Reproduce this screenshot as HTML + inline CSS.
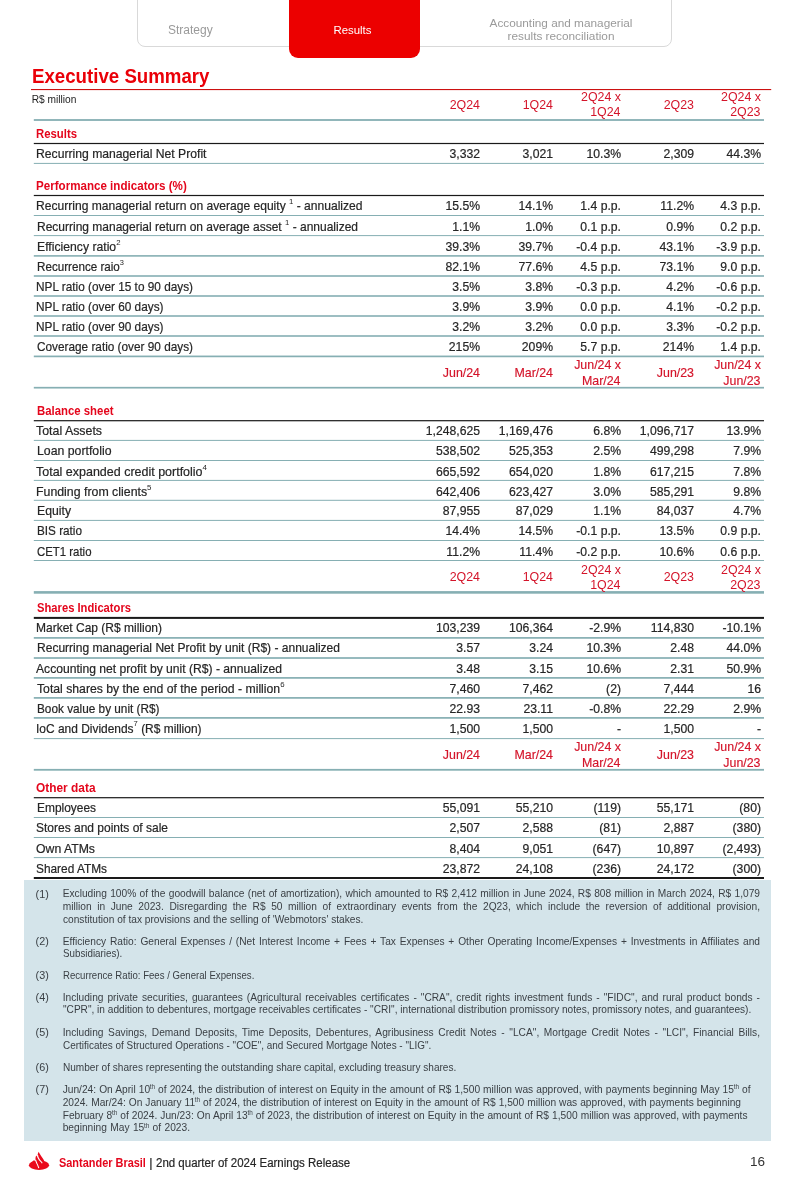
<!DOCTYPE html>
<html lang="en">
<head>
<meta charset="utf-8">
<title>Executive Summary</title>
<style>
html,body{margin:0;padding:0;background:#fff;}
body{width:812px;height:1184px;position:relative;overflow:hidden;font-family:"Liberation Sans",sans-serif;color:#333;}
#pg div{position:absolute;white-space:nowrap;}
#pg i{position:absolute;display:block;}
i.b{background:#86afb3;}
i.k{background:#1a1a1a;}
i.r{background:#cc1111;}
.l,.v{color:#262626;-webkit-text-stroke:0.2px #262626;}
.s{color:#e4061c;font-weight:bold;font-size:12.2px;}
.h{color:#d4142a;font-size:12.4px !important;}
.h.a{font-size:12.4px !important;-webkit-text-stroke:0.15px #d4142a;}
.f{color:#3a3f44;}
.j{text-align:justify;text-align-last:justify;}
sup{-webkit-text-stroke:0;font-size:64%;vertical-align:baseline;position:relative;top:-0.82em;line-height:0;}
.f sup{font-size:62%;top:-0.52em;margin-left:-0.3px;}
#tabs{position:absolute;left:136.5px;top:-10px;width:535.5px;height:56.5px;border:1px solid #d9d9d9;border-radius:8px;box-sizing:border-box;background:#fff;}
#rtab{position:absolute;left:289px;top:-10px;width:130.5px;height:67.5px;background:#ec0000;border-radius:9px;}
.t{color:#9a9a9a;}
#fn{position:absolute;left:24px;top:880px;width:747px;height:261px;background:#d4e4ea;}
</style>
</head>
<body>
<div id="pg">
<div id="tabs"></div>
<div id="rtab"></div>
<div class="t" style="left:168px;top:21.8px;font-size:12px;line-height:16px;">Strategy</div>
<div style="left:333.5px;top:21.5px;font-size:11.4px;line-height:16px;color:#fff;">Results</div>
<div class="t" style="left:461px;width:200px;text-align:center;top:17px;font-size:11.8px;line-height:12.5px;white-space:normal;">Accounting and managerial<br>results reconciliation</div>
<div style="left:32.3px;top:64.2px;font-size:19.8px;line-height:24px;font-weight:bold;color:#ea0008;transform:scaleX(0.944);transform-origin:left center;">Executive Summary</div>
<div style="left:31.7px;top:91.7px;font-size:10.2px;line-height:16px;color:#222;">R$ million</div>
<div id="fn"></div>
<svg style="position:absolute;left:0;top:0" width="812" height="1184" viewBox="0 0 812 1184"><rect x="31" y="89.00" width="740.2" height="1.1" fill="#cc1111"/><rect x="33.8" y="119.10" width="730.2" height="1.8" fill="#86afb3"/><rect x="33.8" y="142.90" width="730.2" height="1.2" fill="#1a1a1a"/><rect x="33.8" y="162.90" width="730.2" height="1" fill="#86afb3"/><rect x="33.8" y="194.90" width="730.2" height="1.2" fill="#1a1a1a"/><rect x="33.8" y="215.00" width="730.2" height="1" fill="#86afb3"/><rect x="33.8" y="235.10" width="730.2" height="1" fill="#86afb3"/><rect x="33.8" y="255.10" width="730.2" height="1.6" fill="#86afb3"/><rect x="33.8" y="275.20" width="730.2" height="1.6" fill="#86afb3"/><rect x="33.8" y="295.20" width="730.2" height="1.6" fill="#86afb3"/><rect x="33.8" y="315.20" width="730.2" height="1.6" fill="#86afb3"/><rect x="33.8" y="335.20" width="730.2" height="1.6" fill="#86afb3"/><rect x="33.8" y="355.55" width="730.2" height="1.7" fill="#86afb3"/><rect x="33.8" y="386.85" width="730.2" height="1.7" fill="#86afb3"/><rect x="33.8" y="420.10" width="730.2" height="1.2" fill="#1a1a1a"/><rect x="33.8" y="439.90" width="730.2" height="1" fill="#86afb3"/><rect x="33.8" y="460.00" width="730.2" height="1" fill="#86afb3"/><rect x="33.8" y="479.90" width="730.2" height="1" fill="#86afb3"/><rect x="33.8" y="499.80" width="730.2" height="1" fill="#86afb3"/><rect x="33.8" y="519.90" width="730.2" height="1" fill="#86afb3"/><rect x="33.8" y="540.00" width="730.2" height="1" fill="#86afb3"/><rect x="33.8" y="560.00" width="730.2" height="1" fill="#86afb3"/><rect x="33.8" y="591.10" width="730.2" height="2.6" fill="#86afb3"/><rect x="33.8" y="616.90" width="730.2" height="2" fill="#1a1a1a"/><rect x="33.8" y="637.05" width="730.2" height="1.7" fill="#86afb3"/><rect x="33.8" y="657.15" width="730.2" height="1.7" fill="#86afb3"/><rect x="33.8" y="677.05" width="730.2" height="1.7" fill="#86afb3"/><rect x="33.8" y="697.05" width="730.2" height="1.7" fill="#86afb3"/><rect x="33.8" y="717.05" width="730.2" height="1.7" fill="#86afb3"/><rect x="33.8" y="738.10" width="730.2" height="1" fill="#86afb3"/><rect x="33.8" y="768.90" width="730.2" height="1.8" fill="#86afb3"/><rect x="33.8" y="797.10" width="730.2" height="1.2" fill="#1a1a1a"/><rect x="33.8" y="817.00" width="730.2" height="1" fill="#86afb3"/><rect x="33.8" y="837.00" width="730.2" height="1" fill="#86afb3"/><rect x="33.8" y="857.10" width="730.2" height="1" fill="#86afb3"/><rect x="33.8" y="877.00" width="730.2" height="2" fill="#1a1a1a"/></svg>
<div class="h" style="top:97.17px;font-size:12.2px;line-height:16px;right:332.00px;text-align:right;">2Q24</div>
<div class="h" style="top:97.17px;font-size:12.2px;line-height:16px;right:259.00px;text-align:right;">1Q24</div>
<div class="h" style="top:88.77px;font-size:12.2px;line-height:16px;right:191.00px;text-align:right;">2Q24 x</div>
<div class="h" style="top:103.57px;font-size:12.2px;line-height:16px;right:191.50px;text-align:right;">1Q24</div>
<div class="h" style="top:97.17px;font-size:12.2px;line-height:16px;right:118.00px;text-align:right;">2Q23</div>
<div class="h" style="top:88.77px;font-size:12.2px;line-height:16px;right:51.00px;text-align:right;">2Q24 x</div>
<div class="h" style="top:103.57px;font-size:12.2px;line-height:16px;right:51.50px;text-align:right;">2Q23</div>
<div class="s" style="top:125.71px;font-size:12.1px;line-height:16px;left:36px;transform:scaleX(0.9385);transform-origin:left center;">Results</div>
<div class="l" style="top:145.67px;font-size:12.2px;line-height:16px;left:36px;transform:scaleX(0.9988);transform-origin:left center;">Recurring managerial Net Profit</div>
<div class="v" style="top:145.67px;font-size:12.2px;line-height:16px;right:332.00px;text-align:right;">3,332</div>
<div class="v" style="top:145.67px;font-size:12.2px;line-height:16px;right:259.00px;text-align:right;">3,021</div>
<div class="v" style="top:145.67px;font-size:12.2px;line-height:16px;right:191.00px;text-align:right;">10.3%</div>
<div class="v" style="top:145.67px;font-size:12.2px;line-height:16px;right:118.00px;text-align:right;">2,309</div>
<div class="v" style="top:145.67px;font-size:12.2px;line-height:16px;right:51.00px;text-align:right;">44.3%</div>
<div class="s" style="top:177.71px;font-size:12.1px;line-height:16px;left:36px;transform:scaleX(0.9589);transform-origin:left center;">Performance indicators (%)</div>
<div class="l" style="top:198.07px;font-size:12.2px;line-height:16px;left:36px;transform:scaleX(0.9908);transform-origin:left center;">Recurring managerial return on average equity <sup>1</sup> - annualized</div>
<div class="v" style="top:198.07px;font-size:12.2px;line-height:16px;right:332.00px;text-align:right;">15.5%</div>
<div class="v" style="top:198.07px;font-size:12.2px;line-height:16px;right:259.00px;text-align:right;">14.1%</div>
<div class="v" style="top:198.07px;font-size:12.2px;line-height:16px;right:191.00px;text-align:right;">1.4 p.p.</div>
<div class="v" style="top:198.07px;font-size:12.2px;line-height:16px;right:118.00px;text-align:right;">11.2%</div>
<div class="v" style="top:198.07px;font-size:12.2px;line-height:16px;right:51.00px;text-align:right;">4.3 p.p.</div>
<div class="l" style="top:218.97px;font-size:12.2px;line-height:16px;left:37px;transform:scaleX(0.9842);transform-origin:left center;">Recurring managerial return on average asset <sup>1</sup> - annualized</div>
<div class="v" style="top:218.97px;font-size:12.2px;line-height:16px;right:332.00px;text-align:right;">1.1%</div>
<div class="v" style="top:218.97px;font-size:12.2px;line-height:16px;right:259.00px;text-align:right;">1.0%</div>
<div class="v" style="top:218.97px;font-size:12.2px;line-height:16px;right:191.00px;text-align:right;">0.1 p.p.</div>
<div class="v" style="top:218.97px;font-size:12.2px;line-height:16px;right:118.00px;text-align:right;">0.9%</div>
<div class="v" style="top:218.97px;font-size:12.2px;line-height:16px;right:51.00px;text-align:right;">0.2 p.p.</div>
<div class="l" style="top:239.07px;font-size:12.2px;line-height:16px;left:37px;transform:scaleX(1.0015);transform-origin:left center;">Efficiency ratio<sup>2</sup></div>
<div class="v" style="top:239.07px;font-size:12.2px;line-height:16px;right:332.00px;text-align:right;">39.3%</div>
<div class="v" style="top:239.07px;font-size:12.2px;line-height:16px;right:259.00px;text-align:right;">39.7%</div>
<div class="v" style="top:239.07px;font-size:12.2px;line-height:16px;right:191.00px;text-align:right;">-0.4 p.p.</div>
<div class="v" style="top:239.07px;font-size:12.2px;line-height:16px;right:118.00px;text-align:right;">43.1%</div>
<div class="v" style="top:239.07px;font-size:12.2px;line-height:16px;right:51.00px;text-align:right;">-3.9 p.p.</div>
<div class="l" style="top:259.07px;font-size:12.2px;line-height:16px;left:37px;transform:scaleX(0.9554);transform-origin:left center;">Recurrence raio<sup>3</sup></div>
<div class="v" style="top:259.07px;font-size:12.2px;line-height:16px;right:332.00px;text-align:right;">82.1%</div>
<div class="v" style="top:259.07px;font-size:12.2px;line-height:16px;right:259.00px;text-align:right;">77.6%</div>
<div class="v" style="top:259.07px;font-size:12.2px;line-height:16px;right:191.00px;text-align:right;">4.5 p.p.</div>
<div class="v" style="top:259.07px;font-size:12.2px;line-height:16px;right:118.00px;text-align:right;">73.1%</div>
<div class="v" style="top:259.07px;font-size:12.2px;line-height:16px;right:51.00px;text-align:right;">9.0 p.p.</div>
<div class="l" style="top:278.87px;font-size:12.2px;line-height:16px;left:36px;transform:scaleX(0.9683);transform-origin:left center;">NPL ratio (over 15 to 90 days)</div>
<div class="v" style="top:278.87px;font-size:12.2px;line-height:16px;right:332.00px;text-align:right;">3.5%</div>
<div class="v" style="top:278.87px;font-size:12.2px;line-height:16px;right:259.00px;text-align:right;">3.8%</div>
<div class="v" style="top:278.87px;font-size:12.2px;line-height:16px;right:191.00px;text-align:right;">-0.3 p.p.</div>
<div class="v" style="top:278.87px;font-size:12.2px;line-height:16px;right:118.00px;text-align:right;">4.2%</div>
<div class="v" style="top:278.87px;font-size:12.2px;line-height:16px;right:51.00px;text-align:right;">-0.6 p.p.</div>
<div class="l" style="top:299.07px;font-size:12.2px;line-height:16px;left:36px;transform:scaleX(0.9685);transform-origin:left center;">NPL ratio (over 60 days)</div>
<div class="v" style="top:299.07px;font-size:12.2px;line-height:16px;right:332.00px;text-align:right;">3.9%</div>
<div class="v" style="top:299.07px;font-size:12.2px;line-height:16px;right:259.00px;text-align:right;">3.9%</div>
<div class="v" style="top:299.07px;font-size:12.2px;line-height:16px;right:191.00px;text-align:right;">0.0 p.p.</div>
<div class="v" style="top:299.07px;font-size:12.2px;line-height:16px;right:118.00px;text-align:right;">4.1%</div>
<div class="v" style="top:299.07px;font-size:12.2px;line-height:16px;right:51.00px;text-align:right;">-0.2 p.p.</div>
<div class="l" style="top:318.97px;font-size:12.2px;line-height:16px;left:36px;transform:scaleX(0.9685);transform-origin:left center;">NPL ratio (over 90 days)</div>
<div class="v" style="top:318.97px;font-size:12.2px;line-height:16px;right:332.00px;text-align:right;">3.2%</div>
<div class="v" style="top:318.97px;font-size:12.2px;line-height:16px;right:259.00px;text-align:right;">3.2%</div>
<div class="v" style="top:318.97px;font-size:12.2px;line-height:16px;right:191.00px;text-align:right;">0.0 p.p.</div>
<div class="v" style="top:318.97px;font-size:12.2px;line-height:16px;right:118.00px;text-align:right;">3.3%</div>
<div class="v" style="top:318.97px;font-size:12.2px;line-height:16px;right:51.00px;text-align:right;">-0.2 p.p.</div>
<div class="l" style="top:338.87px;font-size:12.2px;line-height:16px;left:37px;transform:scaleX(0.9675);transform-origin:left center;">Coverage ratio (over 90 days)</div>
<div class="v" style="top:338.87px;font-size:12.2px;line-height:16px;right:332.00px;text-align:right;">215%</div>
<div class="v" style="top:338.87px;font-size:12.2px;line-height:16px;right:259.00px;text-align:right;">209%</div>
<div class="v" style="top:338.87px;font-size:12.2px;line-height:16px;right:191.00px;text-align:right;">5.7 p.p.</div>
<div class="v" style="top:338.87px;font-size:12.2px;line-height:16px;right:118.00px;text-align:right;">214%</div>
<div class="v" style="top:338.87px;font-size:12.2px;line-height:16px;right:51.00px;text-align:right;">1.4 p.p.</div>
<div class="h a" style="top:364.97px;font-size:12.2px;line-height:16px;right:332.00px;text-align:right;">Jun/24</div>
<div class="h a" style="top:364.97px;font-size:12.2px;line-height:16px;right:259.00px;text-align:right;">Mar/24</div>
<div class="h a" style="top:357.37px;font-size:12.2px;line-height:16px;right:191.00px;text-align:right;">Jun/24 x</div>
<div class="h a" style="top:372.87px;font-size:12.2px;line-height:16px;right:191.50px;text-align:right;">Mar/24</div>
<div class="h a" style="top:364.97px;font-size:12.2px;line-height:16px;right:118.00px;text-align:right;">Jun/23</div>
<div class="h a" style="top:357.37px;font-size:12.2px;line-height:16px;right:51.00px;text-align:right;">Jun/24 x</div>
<div class="h a" style="top:372.87px;font-size:12.2px;line-height:16px;right:51.50px;text-align:right;">Jun/23</div>
<div class="s" style="top:402.71px;font-size:12.1px;line-height:16px;left:37px;transform:scaleX(0.9405);transform-origin:left center;">Balance sheet</div>
<div class="l" style="top:422.87px;font-size:12.2px;line-height:16px;left:36px;transform:scaleX(1.0149);transform-origin:left center;">Total Assets</div>
<div class="v" style="top:422.87px;font-size:12.2px;line-height:16px;right:332.00px;text-align:right;">1,248,625</div>
<div class="v" style="top:422.87px;font-size:12.2px;line-height:16px;right:259.00px;text-align:right;">1,169,476</div>
<div class="v" style="top:422.87px;font-size:12.2px;line-height:16px;right:191.00px;text-align:right;">6.8%</div>
<div class="v" style="top:422.87px;font-size:12.2px;line-height:16px;right:118.00px;text-align:right;">1,096,717</div>
<div class="v" style="top:422.87px;font-size:12.2px;line-height:16px;right:51.00px;text-align:right;">13.9%</div>
<div class="l" style="top:442.67px;font-size:12.2px;line-height:16px;left:37px;transform:scaleX(1.0087);transform-origin:left center;">Loan portfolio</div>
<div class="v" style="top:442.67px;font-size:12.2px;line-height:16px;right:332.00px;text-align:right;">538,502</div>
<div class="v" style="top:442.67px;font-size:12.2px;line-height:16px;right:259.00px;text-align:right;">525,353</div>
<div class="v" style="top:442.67px;font-size:12.2px;line-height:16px;right:191.00px;text-align:right;">2.5%</div>
<div class="v" style="top:442.67px;font-size:12.2px;line-height:16px;right:118.00px;text-align:right;">499,298</div>
<div class="v" style="top:442.67px;font-size:12.2px;line-height:16px;right:51.00px;text-align:right;">7.9%</div>
<div class="l" style="top:464.27px;font-size:12.2px;line-height:16px;left:36px;transform:scaleX(1.0242);transform-origin:left center;">Total expanded credit portfolio<sup>4</sup></div>
<div class="v" style="top:464.27px;font-size:12.2px;line-height:16px;right:332.00px;text-align:right;">665,592</div>
<div class="v" style="top:464.27px;font-size:12.2px;line-height:16px;right:259.00px;text-align:right;">654,020</div>
<div class="v" style="top:464.27px;font-size:12.2px;line-height:16px;right:191.00px;text-align:right;">1.8%</div>
<div class="v" style="top:464.27px;font-size:12.2px;line-height:16px;right:118.00px;text-align:right;">617,215</div>
<div class="v" style="top:464.27px;font-size:12.2px;line-height:16px;right:51.00px;text-align:right;">7.8%</div>
<div class="l" style="top:484.17px;font-size:12.2px;line-height:16px;left:36px;transform:scaleX(1.0123);transform-origin:left center;">Funding from clients<sup>5</sup></div>
<div class="v" style="top:484.17px;font-size:12.2px;line-height:16px;right:332.00px;text-align:right;">642,406</div>
<div class="v" style="top:484.17px;font-size:12.2px;line-height:16px;right:259.00px;text-align:right;">623,427</div>
<div class="v" style="top:484.17px;font-size:12.2px;line-height:16px;right:191.00px;text-align:right;">3.0%</div>
<div class="v" style="top:484.17px;font-size:12.2px;line-height:16px;right:118.00px;text-align:right;">585,291</div>
<div class="v" style="top:484.17px;font-size:12.2px;line-height:16px;right:51.00px;text-align:right;">9.8%</div>
<div class="l" style="top:503.17px;font-size:12.2px;line-height:16px;left:37px;transform:scaleX(1.0037);transform-origin:left center;">Equity</div>
<div class="v" style="top:503.17px;font-size:12.2px;line-height:16px;right:332.00px;text-align:right;">87,955</div>
<div class="v" style="top:503.17px;font-size:12.2px;line-height:16px;right:259.00px;text-align:right;">87,029</div>
<div class="v" style="top:503.17px;font-size:12.2px;line-height:16px;right:191.00px;text-align:right;">1.1%</div>
<div class="v" style="top:503.17px;font-size:12.2px;line-height:16px;right:118.00px;text-align:right;">84,037</div>
<div class="v" style="top:503.17px;font-size:12.2px;line-height:16px;right:51.00px;text-align:right;">4.7%</div>
<div class="l" style="top:523.17px;font-size:12.2px;line-height:16px;left:37px;transform:scaleX(0.9626);transform-origin:left center;">BIS ratio</div>
<div class="v" style="top:523.17px;font-size:12.2px;line-height:16px;right:332.00px;text-align:right;">14.4%</div>
<div class="v" style="top:523.17px;font-size:12.2px;line-height:16px;right:259.00px;text-align:right;">14.5%</div>
<div class="v" style="top:523.17px;font-size:12.2px;line-height:16px;right:191.00px;text-align:right;">-0.1 p.p.</div>
<div class="v" style="top:523.17px;font-size:12.2px;line-height:16px;right:118.00px;text-align:right;">13.5%</div>
<div class="v" style="top:523.17px;font-size:12.2px;line-height:16px;right:51.00px;text-align:right;">0.9 p.p.</div>
<div class="l" style="top:544.07px;font-size:12.2px;line-height:16px;left:37px;transform:scaleX(0.9356);transform-origin:left center;">CET1 ratio</div>
<div class="v" style="top:544.07px;font-size:12.2px;line-height:16px;right:332.00px;text-align:right;">11.2%</div>
<div class="v" style="top:544.07px;font-size:12.2px;line-height:16px;right:259.00px;text-align:right;">11.4%</div>
<div class="v" style="top:544.07px;font-size:12.2px;line-height:16px;right:191.00px;text-align:right;">-0.2 p.p.</div>
<div class="v" style="top:544.07px;font-size:12.2px;line-height:16px;right:118.00px;text-align:right;">10.6%</div>
<div class="v" style="top:544.07px;font-size:12.2px;line-height:16px;right:51.00px;text-align:right;">0.6 p.p.</div>
<div class="h" style="top:569.27px;font-size:12.2px;line-height:16px;right:332.00px;text-align:right;">2Q24</div>
<div class="h" style="top:569.27px;font-size:12.2px;line-height:16px;right:259.00px;text-align:right;">1Q24</div>
<div class="h" style="top:562.37px;font-size:12.2px;line-height:16px;right:191.00px;text-align:right;">2Q24 x</div>
<div class="h" style="top:576.67px;font-size:12.2px;line-height:16px;right:191.50px;text-align:right;">1Q24</div>
<div class="h" style="top:569.27px;font-size:12.2px;line-height:16px;right:118.00px;text-align:right;">2Q23</div>
<div class="h" style="top:562.37px;font-size:12.2px;line-height:16px;right:51.00px;text-align:right;">2Q24 x</div>
<div class="h" style="top:576.67px;font-size:12.2px;line-height:16px;right:51.50px;text-align:right;">2Q23</div>
<div class="s" style="top:599.51px;font-size:12.1px;line-height:16px;left:37px;transform:scaleX(0.9261);transform-origin:left center;">Shares Indicators</div>
<div class="l" style="top:620.07px;font-size:12.2px;line-height:16px;left:36px;transform:scaleX(0.9844);transform-origin:left center;">Market Cap (R$ million)</div>
<div class="v" style="top:620.07px;font-size:12.2px;line-height:16px;right:332.00px;text-align:right;">103,239</div>
<div class="v" style="top:620.07px;font-size:12.2px;line-height:16px;right:259.00px;text-align:right;">106,364</div>
<div class="v" style="top:620.07px;font-size:12.2px;line-height:16px;right:191.00px;text-align:right;">-2.9%</div>
<div class="v" style="top:620.07px;font-size:12.2px;line-height:16px;right:118.00px;text-align:right;">114,830</div>
<div class="v" style="top:620.07px;font-size:12.2px;line-height:16px;right:51.00px;text-align:right;">-10.1%</div>
<div class="l" style="top:640.37px;font-size:12.2px;line-height:16px;left:37px;transform:scaleX(0.9874);transform-origin:left center;">Recurring managerial Net Profit by unit (R$) - annualized</div>
<div class="v" style="top:640.37px;font-size:12.2px;line-height:16px;right:332.00px;text-align:right;">3.57</div>
<div class="v" style="top:640.37px;font-size:12.2px;line-height:16px;right:259.00px;text-align:right;">3.24</div>
<div class="v" style="top:640.37px;font-size:12.2px;line-height:16px;right:191.00px;text-align:right;">10.3%</div>
<div class="v" style="top:640.37px;font-size:12.2px;line-height:16px;right:118.00px;text-align:right;">2.48</div>
<div class="v" style="top:640.37px;font-size:12.2px;line-height:16px;right:51.00px;text-align:right;">44.0%</div>
<div class="l" style="top:660.77px;font-size:12.2px;line-height:16px;left:36px;transform:scaleX(0.9948);transform-origin:left center;">Accounting net profit by unit (R$) - annualized</div>
<div class="v" style="top:660.77px;font-size:12.2px;line-height:16px;right:332.00px;text-align:right;">3.48</div>
<div class="v" style="top:660.77px;font-size:12.2px;line-height:16px;right:259.00px;text-align:right;">3.15</div>
<div class="v" style="top:660.77px;font-size:12.2px;line-height:16px;right:191.00px;text-align:right;">10.6%</div>
<div class="v" style="top:660.77px;font-size:12.2px;line-height:16px;right:118.00px;text-align:right;">2.31</div>
<div class="v" style="top:660.77px;font-size:12.2px;line-height:16px;right:51.00px;text-align:right;">50.9%</div>
<div class="l" style="top:681.07px;font-size:12.2px;line-height:16px;left:37px;transform:scaleX(1.0025);transform-origin:left center;">Total shares by the end of the period - million<sup>6</sup></div>
<div class="v" style="top:681.07px;font-size:12.2px;line-height:16px;right:332.00px;text-align:right;">7,460</div>
<div class="v" style="top:681.07px;font-size:12.2px;line-height:16px;right:259.00px;text-align:right;">7,462</div>
<div class="v" style="top:681.07px;font-size:12.2px;line-height:16px;right:191.00px;text-align:right;">(2)</div>
<div class="v" style="top:681.07px;font-size:12.2px;line-height:16px;right:118.00px;text-align:right;">7,444</div>
<div class="v" style="top:681.07px;font-size:12.2px;line-height:16px;right:51.00px;text-align:right;">16</div>
<div class="l" style="top:700.87px;font-size:12.2px;line-height:16px;left:37px;transform:scaleX(0.9669);transform-origin:left center;">Book value by unit (R$)</div>
<div class="v" style="top:700.87px;font-size:12.2px;line-height:16px;right:332.00px;text-align:right;">22.93</div>
<div class="v" style="top:700.87px;font-size:12.2px;line-height:16px;right:259.00px;text-align:right;">23.11</div>
<div class="v" style="top:700.87px;font-size:12.2px;line-height:16px;right:191.00px;text-align:right;">-0.8%</div>
<div class="v" style="top:700.87px;font-size:12.2px;line-height:16px;right:118.00px;text-align:right;">22.29</div>
<div class="v" style="top:700.87px;font-size:12.2px;line-height:16px;right:51.00px;text-align:right;">2.9%</div>
<div class="l" style="top:720.87px;font-size:12.2px;line-height:16px;left:36px;transform:scaleX(0.9796);transform-origin:left center;">IoC and Dividends<sup>7</sup> (R$ million)</div>
<div class="v" style="top:720.87px;font-size:12.2px;line-height:16px;right:332.00px;text-align:right;">1,500</div>
<div class="v" style="top:720.87px;font-size:12.2px;line-height:16px;right:259.00px;text-align:right;">1,500</div>
<div class="v" style="top:720.87px;font-size:12.2px;line-height:16px;right:191.00px;text-align:right;">-</div>
<div class="v" style="top:720.87px;font-size:12.2px;line-height:16px;right:118.00px;text-align:right;">1,500</div>
<div class="v" style="top:720.87px;font-size:12.2px;line-height:16px;right:51.00px;text-align:right;">-</div>
<div class="h a" style="top:746.67px;font-size:12.2px;line-height:16px;right:332.00px;text-align:right;">Jun/24</div>
<div class="h a" style="top:746.67px;font-size:12.2px;line-height:16px;right:259.00px;text-align:right;">Mar/24</div>
<div class="h a" style="top:739.37px;font-size:12.2px;line-height:16px;right:191.00px;text-align:right;">Jun/24 x</div>
<div class="h a" style="top:754.87px;font-size:12.2px;line-height:16px;right:191.50px;text-align:right;">Mar/24</div>
<div class="h a" style="top:746.67px;font-size:12.2px;line-height:16px;right:118.00px;text-align:right;">Jun/23</div>
<div class="h a" style="top:739.37px;font-size:12.2px;line-height:16px;right:51.00px;text-align:right;">Jun/24 x</div>
<div class="h a" style="top:754.87px;font-size:12.2px;line-height:16px;right:51.50px;text-align:right;">Jun/23</div>
<div class="s" style="top:779.61px;font-size:12.1px;line-height:16px;left:36px;transform:scaleX(0.9837);transform-origin:left center;">Other data</div>
<div class="l" style="top:799.97px;font-size:12.2px;line-height:16px;left:37px;transform:scaleX(0.9785);transform-origin:left center;">Employees</div>
<div class="v" style="top:799.97px;font-size:12.2px;line-height:16px;right:332.00px;text-align:right;">55,091</div>
<div class="v" style="top:799.97px;font-size:12.2px;line-height:16px;right:259.00px;text-align:right;">55,210</div>
<div class="v" style="top:799.97px;font-size:12.2px;line-height:16px;right:191.00px;text-align:right;">(119)</div>
<div class="v" style="top:799.97px;font-size:12.2px;line-height:16px;right:118.00px;text-align:right;">55,171</div>
<div class="v" style="top:799.97px;font-size:12.2px;line-height:16px;right:51.00px;text-align:right;">(80)</div>
<div class="l" style="top:820.07px;font-size:12.2px;line-height:16px;left:36px;transform:scaleX(0.9839);transform-origin:left center;">Stores and points of sale</div>
<div class="v" style="top:820.07px;font-size:12.2px;line-height:16px;right:332.00px;text-align:right;">2,507</div>
<div class="v" style="top:820.07px;font-size:12.2px;line-height:16px;right:259.00px;text-align:right;">2,588</div>
<div class="v" style="top:820.07px;font-size:12.2px;line-height:16px;right:191.00px;text-align:right;">(81)</div>
<div class="v" style="top:820.07px;font-size:12.2px;line-height:16px;right:118.00px;text-align:right;">2,887</div>
<div class="v" style="top:820.07px;font-size:12.2px;line-height:16px;right:51.00px;text-align:right;">(380)</div>
<div class="l" style="top:840.67px;font-size:12.2px;line-height:16px;left:36px;transform:scaleX(1.0053);transform-origin:left center;">Own ATMs</div>
<div class="v" style="top:840.67px;font-size:12.2px;line-height:16px;right:332.00px;text-align:right;">8,404</div>
<div class="v" style="top:840.67px;font-size:12.2px;line-height:16px;right:259.00px;text-align:right;">9,051</div>
<div class="v" style="top:840.67px;font-size:12.2px;line-height:16px;right:191.00px;text-align:right;">(647)</div>
<div class="v" style="top:840.67px;font-size:12.2px;line-height:16px;right:118.00px;text-align:right;">10,897</div>
<div class="v" style="top:840.67px;font-size:12.2px;line-height:16px;right:51.00px;text-align:right;">(2,493)</div>
<div class="l" style="top:860.97px;font-size:12.2px;line-height:16px;left:36px;transform:scaleX(0.9734);transform-origin:left center;">Shared ATMs</div>
<div class="v" style="top:860.97px;font-size:12.2px;line-height:16px;right:332.00px;text-align:right;">23,872</div>
<div class="v" style="top:860.97px;font-size:12.2px;line-height:16px;right:259.00px;text-align:right;">24,108</div>
<div class="v" style="top:860.97px;font-size:12.2px;line-height:16px;right:191.00px;text-align:right;">(236)</div>
<div class="v" style="top:860.97px;font-size:12.2px;line-height:16px;right:118.00px;text-align:right;">24,172</div>
<div class="v" style="top:860.97px;font-size:12.2px;line-height:16px;right:51.00px;text-align:right;">(300)</div>
<div class="s" style="top:1155.37px;font-size:12.2px;line-height:16px;left:59.3px;transform:scaleX(0.8972);transform-origin:left center;">Santander Brasil</div>
<div class="l" style="top:1155.03px;font-size:12.6px;line-height:16px;left:149.3px;">|</div>
<div class="l" style="top:1155.27px;font-size:12.5px;line-height:16px;left:155.6px;transform:scaleX(0.9192);transform-origin:left center;">2nd quarter of 2024 Earnings Release</div>
<div class="f" style="top:885.56px;font-size:10.8px;line-height:16px;left:35.6px;">(1)</div>
<div class="f" style="top:887.27px;font-size:10.2px;line-height:13px;left:62.7px;width:697.3px;text-align:justify;text-align-last:justify;">Excluding 100% of the goodwill balance (net of amortization), which amounted to R$ 2,412 million in June 2024, R$ 808 million in March 2024, R$ 1,079</div>
<div class="f" style="top:900.07px;font-size:10.2px;line-height:13px;left:62.7px;width:697.3px;text-align:justify;text-align-last:justify;">million in June 2023. Disregarding the R$ 50 million of extraordinary events from the 2Q23, which include the reversion of additional provision,</div>
<div class="f" style="top:912.87px;font-size:10.2px;line-height:13px;left:62.7px;transform:scaleX(0.9958);transform-origin:left center;">constitution of tax provisions and the selling of 'Webmotors' stakes.</div>
<div class="f" style="top:933.26px;font-size:10.8px;line-height:16px;left:35.6px;">(2)</div>
<div class="f" style="top:934.97px;font-size:10.2px;line-height:13px;left:62.7px;width:697.3px;text-align:justify;text-align-last:justify;">Efficiency Ratio: General Expenses / (Net Interest Income + Fees + Tax Expenses + Other Operating Income/Expenses + Investments in Affiliates and</div>
<div class="f" style="top:947.37px;font-size:10.2px;line-height:13px;left:62.7px;transform:scaleX(0.9608);transform-origin:left center;">Subsidiaries).</div>
<div class="f" style="top:967.36px;font-size:10.8px;line-height:16px;left:35.6px;">(3)</div>
<div class="f" style="top:969.07px;font-size:10.2px;line-height:13px;left:62.7px;transform:scaleX(0.9437);transform-origin:left center;">Recurrence Ratio: Fees / General Expenses.</div>
<div class="f" style="top:989.36px;font-size:10.8px;line-height:16px;left:35.6px;">(4)</div>
<div class="f" style="top:991.07px;font-size:10.2px;line-height:13px;left:62.7px;width:697.3px;text-align:justify;text-align-last:justify;">Including private securities, guarantees (Agricultural receivables certificates - "CRA", credit rights investment funds - "FIDC", and rural product bonds -</div>
<div class="f" style="top:1003.47px;font-size:10.2px;line-height:13px;left:62.7px;transform:scaleX(0.9918);transform-origin:left center;">"CPR", in addition to debentures, mortgage receivables certificates - "CRI", international distribution promissory notes, promissory notes, and guarantees).</div>
<div class="f" style="top:1024.46px;font-size:10.8px;line-height:16px;left:35.6px;">(5)</div>
<div class="f" style="top:1026.17px;font-size:10.2px;line-height:13px;left:62.7px;width:697.3px;text-align:justify;text-align-last:justify;">Including Savings, Demand Deposits, Time Deposits, Debentures, Agribusiness Credit Notes - "LCA", Mortgage Credit Notes - "LCI", Financial Bills,</div>
<div class="f" style="top:1038.97px;font-size:10.2px;line-height:13px;left:62.7px;transform:scaleX(0.9758);transform-origin:left center;">Certificates of Structured Operations - "COE", and Secured Mortgage Notes - "LIG".</div>
<div class="f" style="top:1058.96px;font-size:10.8px;line-height:16px;left:35.6px;">(6)</div>
<div class="f" style="top:1060.67px;font-size:10.2px;line-height:13px;left:62.7px;transform:scaleX(0.9879);transform-origin:left center;">Number of shares representing the outstanding share capital, excluding treasury shares.</div>
<div class="f" style="top:1081.06px;font-size:10.8px;line-height:16px;left:35.6px;">(7)</div>
<div class="f" style="top:1082.77px;font-size:10.2px;line-height:13px;left:62.7px;width:687.8px;text-align:justify;text-align-last:justify;">Jun/24: On April 10<sup>th</sup> of 2024, the distribution of interest on Equity in the amount of R$ 1,500 million was approved, with payments beginning May 15<sup>th</sup> of</div>
<div class="f" style="top:1095.57px;font-size:10.2px;line-height:13px;left:62.7px;width:678.3px;text-align:justify;text-align-last:justify;">2024. Mar/24: On January 11<sup>th</sup> of 2024, the distribution of interest on Equity in the amount of R$ 1,500 million was approved, with payments beginning</div>
<div class="f" style="top:1108.57px;font-size:10.2px;line-height:13px;left:62.7px;width:684.8px;text-align:justify;text-align-last:justify;">February 8<sup>th</sup> of 2024. Jun/23: On April 13<sup>th</sup> of 2023, the distribution of interest on Equity in the amount of R$ 1,500 million was approved, with payments</div>
<div class="f" style="top:1121.37px;font-size:10.2px;line-height:13px;left:62.7px;width:127.3px;text-align:justify;text-align-last:justify;">beginning May 15<sup>th</sup> of 2023.</div>
<svg style="position:absolute;left:24px;top:1146px" width="40" height="30" viewBox="0 0 40 30"><g fill="#ea0a1c"><ellipse cx="15" cy="19.15" rx="10.1" ry="4.75"/><path d="M14.8 5.7C15.3 7.4 16.4 8.8 17.1 9.9C18 11.3 19.1 12.7 19.8 14L20.5 15.8L20 20L18.2 17.3C17.6 16 16.3 15.1 15.4 13.9C14.6 12.8 13.6 11 13.6 9C13.7 7.6 14.2 6.6 14.8 5.7Z"/><path d="M12.3 9.6C12.7 10.6 13.5 11.3 14.2 12.1C14.6 12.8 15 13.4 15.4 13.9C16.3 15.1 17.6 16 18.2 17.3L18 21L14.8 22C14.2 20 13.4 18.5 12.8 17.2C12.3 16 11.7 14.6 11.5 13.4C11.4 11.8 11.7 10.5 12.3 9.6Z"/><path d="M10.1 13.9C10.6 15 11.6 15.8 12.3 16.4L12.8 17.2L14.8 22L8 21L7 17Z"/></g><g stroke="#fff" stroke-width="1.05" fill="none"><path d="M13.6 9C13.6 11 14.6 12.8 15.4 13.9C16.3 15.1 17.6 16 18.2 17.3"/><path d="M11.6 13.8C11.8 14.8 12.3 16 12.8 17.2C13.4 18.5 14.2 20 14.8 22.2"/></g></svg>
<div style="right:47px;top:1153.5px;font-size:13.5px;line-height:16px;color:#333;">16</div>
</div>
</body>
</html>
